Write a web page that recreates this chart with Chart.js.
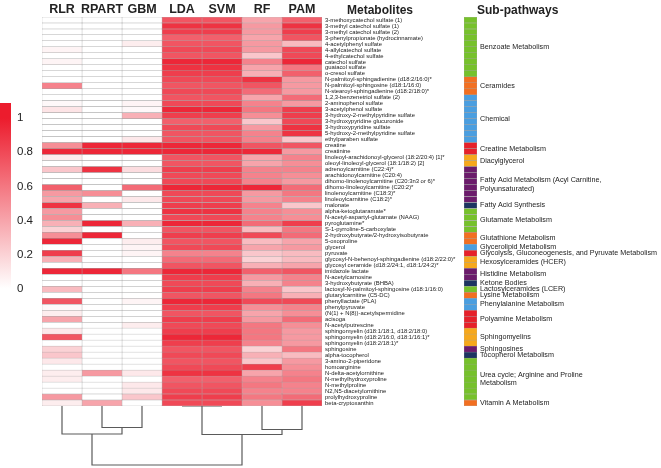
<!DOCTYPE html>
<html>
<head>
<meta charset="utf-8">
<script src="https://cdn.jsdelivr.net/npm/chart.js@4.4.0/dist/chart.umd.min.js"></script>
<style>
  body { margin: 0; background: #fff; }
  #wrap { position: relative; width: 661px; height: 468px; overflow: hidden; font-family: "Liberation Sans", Arial, sans-serif; }
  canvas { position: absolute; }
  .hdr { position: absolute; font-weight: bold; font-size: 12px; line-height: 16px; color: #222; }
</style>
</head>
<body>
<div id="wrap">
  <canvas id="legend" width="40" height="215" style="left:0;top:90px"></canvas>
  <canvas id="heat" width="462" height="468" style="left:0;top:0"></canvas>
  <canvas id="dendro" width="322" height="68" style="left:0;top:400px"></canvas>
  <canvas id="paths" width="197" height="468" style="left:464px;top:0"></canvas>
  <div class="hdr" style="left:347px;top:2px">Metabolites</div>
  <div class="hdr" style="left:477px;top:2px">Sub-pathways</div>
</div>
<script>
const methods = ["RLR", "RPART", "GBM", "LDA", "SVM", "RF", "PAM"];

const metabolites = [
  "3-methoxycatechol sulfate (1)", "3-methyl catechol sulfate (1)", "3-methyl catechol sulfate (2)",
  "3-phenylpropionate (hydrocinnamate)", "4-acetylphenyl sulfate", "4-allylcatechol sulfate",
  "4-ethylcatechol sulfate", "catechol sulfate", "guaiacol sulfate", "o-cresol sulfate",
  "N-palmitoyl-sphingadienine (d18:2/16:0)*", "N-palmitoyl-sphingosine (d18:1/16:0)",
  "N-stearoyl-sphingadienine (d18:2/18:0)*", "1,2,3-benzenetriol sulfate (2)", "2-aminophenol sulfate",
  "3-acetylphenol sulfate", "3-hydroxy-2-methylpyridine sulfate", "3-hydroxypyridine glucuronide",
  "3-hydroxypyridine sulfate", "5-hydroxy-2-methylpyridine sulfate", "ethylparaben sulfate",
  "creatine", "creatinine", "linoleoyl-arachidonoyl-glycerol (18:2/20:4) [1]*",
  "oleoyl-linoleoyl-glycerol (18:1/18:2) [2]", "adrenoylcarnitine (C22:4)*", "arachidonoylcarnitine (C20:4)",
  "dihomo-linolenoylcarnitine (C20:3n3 or 6)*", "dihomo-linoleoylcarnitine (C20:2)*",
  "linolenoylcarnitine (C18:3)*", "linoleoylcarnitine (C18:2)*", "malonate", "alpha-ketoglutaramate*",
  "N-acetyl-aspartyl-glutamate (NAAG)", "pyroglutamine*", "S-1-pyrroline-5-carboxylate",
  "2-hydroxybutyrate/2-hydroxyisobutyrate", "5-oxoproline", "glycerol", "pyruvate",
  "glycosyl-N-behenoyl-sphingadienine (d18:2/22:0)*", "glycosyl ceramide (d18:2/24:1, d18:1/24:2)*",
  "imidazole lactate", "N-acetylcarnosine", "3-hydroxybutyrate (BHBA)",
  "lactosyl-N-palmitoyl-sphingosine (d18:1/16:0)", "glutarylcarnitine (C5-DC)", "phenyllactate (PLA)",
  "phenylpyruvate", "(N(1) + N(8))-acetylspermidine", "acisoga", "N-acetylputrescine",
  "sphingomyelin (d18:1/18:1, d18:2/18:0)", "sphingomyelin (d18:2/16:0, d18:1/16:1)*",
  "sphingomyelin (d18:2/18:1)*", "sphingosine", "alpha-tocopherol", "3-amino-2-piperidone",
  "homoarginine", "N-delta-acetylornithine", "N-methylhydroxyproline", "N-methylproline",
  "N2,N5-diacetylornithine", "prolylhydroxyproline", "beta-cryptoxanthin"
];

// scaled importance per method, one value per metabolite (top to bottom)
const rlr = [0,0,0,0,0,0.05,0,0.05,0,0, 0,0.55,0, 0,0.03,0.12,0,0,0,0,0, 0.5,0.95, 0.08,0,
  0.25,0,0,0.7,0.45,0.4, 0.9, 0.45,0.5,0.35,0.2, 0.5,0.95, 0, 0.85, 0.35,0, 0.95,0, 0, 0.3, 0,
  0.75,0.03, 0.08,0.4,0, 0.1,0.75,0, 0.2, 0.25, 0.1,0,0.08,0.08,0,0,0.45, 0.08];
const rpart = [0,0,0,0,0,0,0,0,0,0, 0,0,0, 0,0,0,0,0,0,0,0, 0.95,0.95, 0,0,
  0.9,0,0,0,0.5,0, 0.35, 0,0,0.95,0, 0.95,0, 0, 0, 0,0, 0.95,0, 0, 0, 0,
  0,0, 0,0,0, 0,0,0, 0, 0, 0,0,0.45,0,0,0,0, 0.4];
const gbm = [0,0,0,0,0.08,0,0,0,0,0, 0,0,0, 0,0.05,0.03,0.35,0,0,0,0.1, 0.95,0.95, 0,0,
  0.15,0,0,0.65,0,0.1, 0, 0,0,0.35,0, 0,0.08, 0.05, 0.05, 0,0, 0.6,0, 0, 0, 0,
  0.05,0, 0,0,0.08, 0,0,0, 0, 0, 0,0,0.1,0,0.1,0.1,0.25, 0];
const lda = [0.75,0.9,0.85,0.7,0.75,0.8,0.75,0.95,0.9,0.85, 0.8,0.75,0.8, 0.75,0.8,0.95,0.85,0.7,0.8,0.75,0.75,
  0.95,0.95, 0.75,0.75, 0.85,0.8,0.8,0.95,0.8,0.8, 0.85, 0.9,0.8,0.95,0.75, 0.85,0.75, 0.8, 0.55,
  0.65,0.75, 0.95,0.85, 0.8, 0.85, 0.75, 0.95,0.85, 0.75,0.85,0.8, 0.85,0.95,0.85, 0.75, 0.8,
  0.75,0.8,0.9,0.7,0.75,0.8,0.85, 0.8];
const svm = [0.75,0.9,0.85,0.7,0.75,0.8,0.75,0.95,0.9,0.85, 0.8,0.75,0.8, 0.75,0.8,0.95,0.85,0.7,0.8,0.75,0.75,
  0.95,0.95, 0.75,0.75, 0.85,0.8,0.8,0.95,0.8,0.8, 0.85, 0.9,0.8,0.95,0.75, 0.85,0.75, 0.8, 0.55,
  0.65,0.75, 0.95,0.85, 0.8, 0.85, 0.75, 0.95,0.85, 0.75,0.85,0.8, 0.85,0.95,0.85, 0.75, 0.8,
  0.75,0.8,0.9,0.7,0.75,0.8,0.85, 0.8];
const rf = [0.4,0.45,0.45,0.4,0.45,0.45,0.25,0.55,0.4,0.35, 0.9,0.75,0.65, 0.4,0.55,0.6,0.5,0.25,0.45,0.55,0.55,
  0.75,0.95, 0.4,0.4, 0.55,0.55,0.55,0.95,0.45,0.45, 0.55, 0.55,0.55,0.65,0.3, 0.8,0.3, 0.4, 0.25,
  0.2,0.35, 0.7,0.45, 0.35, 0.55, 0.6, 0.8,0.5, 0.4,0.45,0.6, 0.6,0.6,0.55, 0.2, 0.35,
  0.25,0.85,0.4,0.55,0.6,0.55,0.6, 0.5];
const pam = [0.7,0.9,0.85,0.75,0.3,0.8,0.8,0.95,0.6,0.7, 0.45,0.45,0.45, 0.65,0.45,0.85,0.85,0.8,0.9,0.9,0.25,
  0.75,0.45, 0.55,0.5, 0.55,0.5,0.45,0.65,0.6,0.55, 0.25, 0.5,0.5,0.85,0.6, 0.65,0.4, 0.45, 0.3,
  0.3,0.4, 0.75,0.55, 0.55, 0.25, 0.35, 0.8,0.55, 0.5,0.65,0.5, 0.45,0.45,0.45, 0.6, 0.3,
  0.45,0.5,0.55,0.6,0.55,0.55,0.65, 0.85];
const scores = [rlr, rpart, gbm, lda, svm, rf, pam];

const subPathways = [
  "Benzoate Metabolism", "Ceramides", "Chemical", "Creatine Metabolism", "Diacylglycerol",
  ["Fatty Acid Metabolism (Acyl Carnitine,", "Polyunsaturated)"], "Fatty Acid Synthesis",
  "Glutamate Metabolism", "Glutathione Metabolism", "Glycerolipid Metabolism",
  "Glycolysis, Gluconeogenesis, and Pyruvate Metabolism", "Hexosylceramides (HCER)",
  "Histidine Metabolism", "Ketone Bodies", "Lactosylceramides (LCER)", "Lysine Metabolism",
  "Phenylalanine Metabolism", "Polyamine Metabolism", "Sphingomyelins", "Sphingosines",
  "Tocopherol Metabolism", ["Urea cycle; Arginine and Proline", "Metabolism"], "Vitamin A Metabolism"
];
const subCounts = [10, 3, 8, 2, 2, 6, 1, 4, 2, 1, 1, 2, 2, 1, 1, 1, 2, 3, 3, 1, 1, 7, 1];
const pathColors = ["#76c12b", "#f26f21", "#4a9ee0", "#e6212a", "#f6a81c", "#6b1b6b", "#1d3461"];

const legendTicks = [0, 0.2, 0.4, 0.6, 0.8, 1];

// dendrogram of the methods: [left, right, merge height]
const merges = [
  ["RPART", "GBM", 21.5],
  ["LDA", "SVM", 0],
  ["RF", "PAM", 23.5],
  ["RLR", "RPART+GBM", 28],
  ["LDA+SVM", "RF+PAM", 28.5],
  ["RLR+RPART+GBM", "LDA+SVM+RF+PAM", 59]
];

Chart.defaults.font.family = '"Liberation Sans", Arial, sans-serif';
Chart.defaults.color = "#222";

function heatColor(v) {
  const r = Math.round(255 - (255 - 236) * v);
  const g = Math.round(255 - (255 - 28) * v);
  const b = Math.round(255 - (255 - 45) * v);
  return `rgb(${r},${g},${b})`;
}

const noPlugins = { legend: { display: false }, tooltip: { enabled: false } };

// heatmap
new Chart(document.getElementById("heat"), {
  type: "bar",
  data: {
    labels: metabolites,
    datasets: methods.map((m, j) => ({
      label: m,
      data: metabolites.map(() => 1),
      backgroundColor: scores[j].map(heatColor),
      borderColor: "#a5a5a5",
      borderWidth: 0.5,
      borderSkipped: false,
      barPercentage: 1,
      categoryPercentage: 1
    }))
  },
  options: {
    indexAxis: "y",
    responsive: false,
    animation: false,
    layout: { padding: { left: 42, top: 0, bottom: 62, right: 0 } },
    plugins: noPlugins,
    scales: {
      x: {
        stacked: true, min: 0, max: 7, position: "top",
        grid: { display: false, drawTicks: false }, border: { display: false },
        afterBuildTicks: s => { s.ticks = methods.map((m, j) => ({ value: j + 0.5 })); },
        afterFit: s => { s.height = 17; },
        ticks: { padding: 0, maxRotation: 0, autoSkip: false, font: { size: 12.5, weight: "bold" },
                 callback: v => methods[Math.floor(v)] }
      },
      y: {
        stacked: true, position: "right",
        grid: { display: false, drawTicks: false }, border: { display: false },
        afterFit: s => { s.width = 140; },
        ticks: { autoSkip: false, padding: 3, font: { size: 5.9 } }
      }
    }
  }
});

// dendrogram
const nodes = {};
methods.forEach((m, j) => { nodes[m] = { x: j + 0.5, h: 0 }; });
const links = merges.map(([a, b, h]) => {
  const na = nodes[a], nb = nodes[b];
  nodes[a + "+" + b] = { x: (na.x + nb.x) / 2, h: h };
  return [{ x: na.x, y: na.h }, { x: na.x, y: h }, { x: nb.x, y: h }, { x: nb.x, y: nb.h }];
});
new Chart(document.getElementById("dendro"), {
  type: "scatter",
  data: {
    datasets: links.map(pts => ({
      data: pts, showLine: true, borderColor: "#5a5a5a", borderWidth: 1.2, pointRadius: 0, fill: false
    }))
  },
  options: {
    responsive: false,
    animation: false,
    layout: { padding: { left: 42, right: 0, top: 6, bottom: 2 } },
    plugins: noPlugins,
    scales: {
      x: { type: "linear", min: 0, max: 7, display: false },
      y: { type: "linear", min: 0, max: 60, reverse: true, display: false }
    }
  }
});

// sub-pathway strip
const rowGroup = [];
subCounts.forEach((n, g) => { for (let i = 0; i < n; i++) rowGroup.push(g); });
const groupLabels = {
  id: "groupLabels",
  afterDraw(chart) {
    const { ctx, chartArea } = chart;
    const ys = chart.scales.y;
    ctx.save();
    ctx.font = '7.2px "Liberation Sans", Arial, sans-serif';
    ctx.fillStyle = "#222";
    ctx.textBaseline = "middle";
    let start = 0;
    subCounts.forEach((n, g) => {
      const mid = (ys.getPixelForValue(start) + ys.getPixelForValue(start + n - 1)) / 2;
      const lines = Array.isArray(subPathways[g]) ? subPathways[g] : [subPathways[g]];
      lines.forEach((t, k) => {
        ctx.fillText(t, chartArea.right + 3, mid + (k - (lines.length - 1) / 2) * 8.6);
      });
      start += n;
    });
    ctx.restore();
  }
};
new Chart(document.getElementById("paths"), {
  type: "bar",
  data: {
    labels: metabolites,
    datasets: [{
      data: metabolites.map(() => 1),
      backgroundColor: rowGroup.map(g => pathColors[g % pathColors.length]),
      borderColor: "#a5a5a5",
      borderWidth: 0.5,
      borderSkipped: false,
      barPercentage: 1,
      categoryPercentage: 1
    }]
  },
  options: {
    indexAxis: "y",
    responsive: false,
    animation: false,
    layout: { padding: { left: 0, right: 184, top: 17, bottom: 62 } },
    plugins: noPlugins,
    scales: {
      x: { min: 0, max: 1, display: false },
      y: { display: false }
    }
  },
  plugins: [groupLabels]
});

// colour key
new Chart(document.getElementById("legend"), {
  type: "bar",
  data: {
    labels: ["key"],
    datasets: [{
      data: [[-0.02, 1.09]],
      backgroundColor: c => {
        const ys = c.chart.scales.y;
        if (!ys || !c.chart.chartArea) return heatColor(0.5);
        const grad = c.chart.ctx.createLinearGradient(0, ys.getPixelForValue(0), 0, ys.getPixelForValue(1));
        legendTicks.forEach(v => grad.addColorStop(v, heatColor(v)));
        return grad;
      },
      borderWidth: 0,
      barPercentage: 1,
      categoryPercentage: 1
    }]
  },
  options: {
    responsive: false,
    animation: false,
    layout: { padding: { top: 8, bottom: 13, left: 0, right: 0 } },
    plugins: noPlugins,
    scales: {
      x: { display: false },
      y: {
        min: -0.02, max: 1.09, position: "right",
        grid: { display: false, drawTicks: false }, border: { display: false },
        afterBuildTicks: s => { s.ticks = legendTicks.map(v => ({ value: v })); },
        afterFit: s => { s.width = 29; },
        ticks: { padding: 6, font: { size: 11.5 }, callback: v => String(+v.toFixed(1)) }
      }
    }
  }
});
</script>
</body>
</html>
